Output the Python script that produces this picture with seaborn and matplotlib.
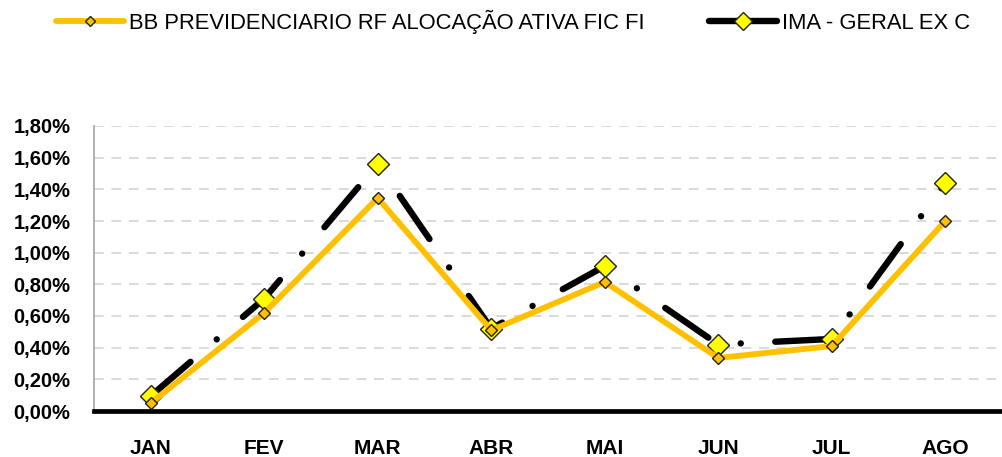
import matplotlib
matplotlib.use("Agg")
import matplotlib.pyplot as plt
import seaborn as sns
import numpy as np
import pandas as pd
from matplotlib.ticker import FuncFormatter, FixedLocator

# data (monthly returns, %)
months = ["JAN", "FEV", "MAR", "ABR", "MAI", "JUN", "JUL", "AGO"]
bb_prev = [0.05, 0.62, 1.345, 0.51, 0.815, 0.335, 0.41, 1.20]
ima_geral = [0.095, 0.71, 1.56, 0.52, 0.915, 0.42, 0.455, 1.44]
y_ticks = [0.0, 0.2, 0.4, 0.6, 0.8, 1.0, 1.2, 1.4, 1.6, 1.8]

label_bb = "BB PREVIDENCIARIO RF ALOCAÇÃO ATIVA FIC FI"
label_ima = "IMA - GERAL EX C"

sns.set_style("white")
plt.rcParams['font.family'] = ['Liberation Sans', 'DejaVu Sans']
plt.rcParams['text.color'] = 'black'

df = pd.DataFrame({"pos": np.arange(len(months)), "bb": bb_prev, "ima": ima_geral})

fig = plt.figure(figsize=(10.02, 4.57), dpi=100)
ax = fig.add_axes([94 / 1002, 1 - 411 / 457, 1 - 94 / 1002, (411 - 126) / 457])

ax.yaxis.grid(True, color="#D9D9D9", linestyle=(0, (5, 4)), linewidth=1.4)
ax.set_axisbelow(True)

sns.lineplot(data=df, x="pos", y="bb", ax=ax, color="#FFC000", linewidth=4.2,
             marker="D", markersize=6.6, markerfacecolor="#FFC000",
             markeredgecolor="#222222", markeredgewidth=1.0,
             solid_joinstyle="round", label=label_bb, zorder=3)
sns.lineplot(data=df, x="pos", y="ima", ax=ax, color="black", linewidth=4.6,
             linestyle=(0, (8.2, 5.4, 0.01, 5.4)), dash_capstyle="round",
             marker="D", markersize=11.7, markerfacecolor="#FFFF00",
             markeredgecolor="#222222", markeredgewidth=1.0,
             label=label_ima, zorder=2)

ax.set_xlim(-0.5, len(months) - 0.5)
ax.set_ylim(0, 1.8)
ax.set_xlabel("")
ax.set_ylabel("")

ax.yaxis.set_major_locator(FixedLocator(y_ticks))
ax.yaxis.set_major_formatter(FuncFormatter(lambda v, p: f"{v:.2f}%".replace(".", ",")))
ax.tick_params(axis="y", which="major", length=5, width=1.2, color="#A6A6A6",
               labelsize=14.5, labelcolor="black", pad=12)
for t in ax.get_yticklabels():
    t.set_fontweight("bold")

# tick marks between categories, labels at category centres
ax.xaxis.set_major_locator(FixedLocator(np.arange(-0.5, len(months), 1.0)))
ax.xaxis.set_major_formatter(FuncFormatter(lambda v, p: ""))
ax.xaxis.set_minor_locator(FixedLocator(np.arange(len(months))))
ax.set_xticklabels(months, minor=True)
ax.tick_params(axis="x", which="major", length=7, width=3, color="black", direction="out")
ax.tick_params(axis="x", which="minor", length=0, labelsize=15, labelcolor="black", pad=20)
for t in ax.get_xticklabels(minor=True):
    t.set_fontweight("bold")

for s in ["top", "right"]:
    ax.spines[s].set_visible(False)
ax.spines["bottom"].set_linewidth(3.4)
ax.spines["bottom"].set_color("black")
ax.spines["left"].set_linewidth(1.2)
ax.spines["left"].set_color("#A6A6A6")

leg = ax.legend(loc="upper center", bbox_to_anchor=(0.5 - 35 / 908, 126 / 285 + 1 + 0.035),
                ncol=2, frameon=False, fontsize=15.8, handlelength=3.1, handletextpad=0.25,
                columnspacing=2.9, markerscale=0.8, labelcolor="black")
# legend swatch for the index is drawn solid, as in the original
leg.get_lines()[1].set_linestyle("-")
leg.get_lines()[1].set_solid_capstyle("round")
leg.get_lines()[0].set_solid_capstyle("round")

fig.savefig("out.png", dpi=100)
